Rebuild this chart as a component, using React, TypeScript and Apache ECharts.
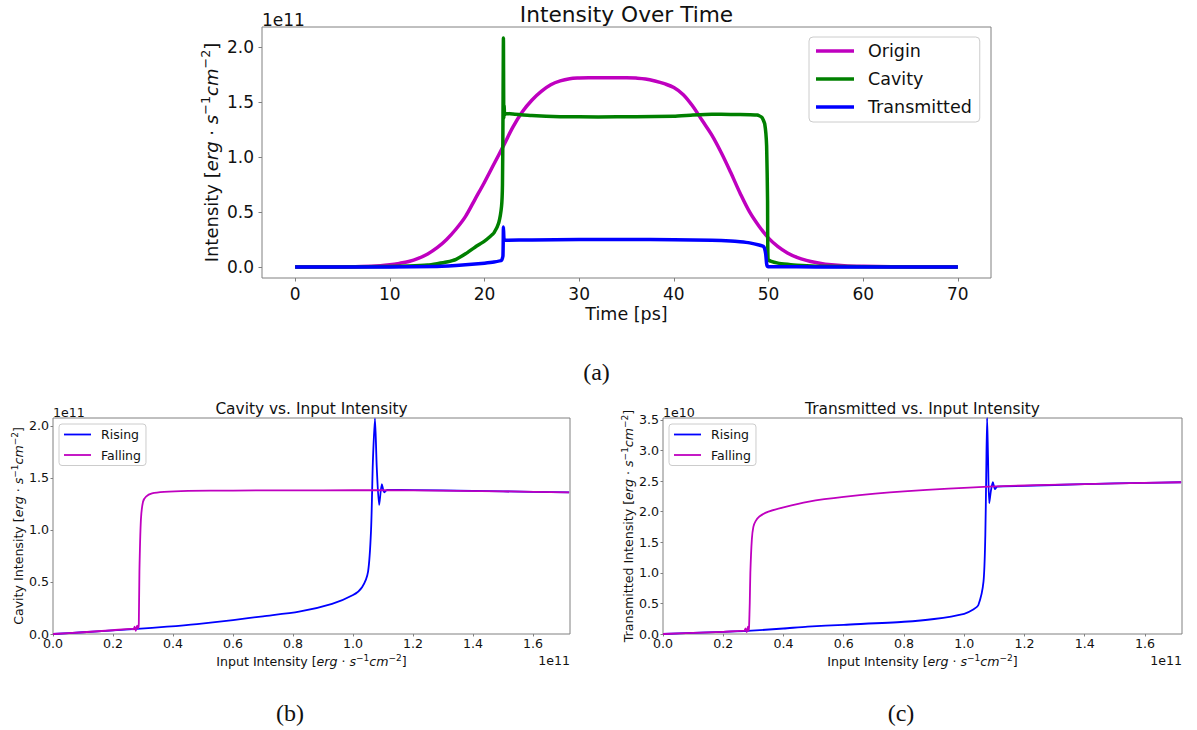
import React, { useEffect, useRef } from 'react';
import * as echarts from 'echarts';

// ---------- Data (intensities in units of the offset shown on each axis) ----------
// Top: Intensity over time (1e11 erg s^-1 cm^-2), time in ps
const timeOrigin = [0, 4, 7, 9, 10, 11, 12, 13, 14, 15, 16, 17, 18, 19, 20, 21, 22, 23, 24, 25, 26, 27, 28, 29, 30, 31, 32, 33, 34, 35, 36, 37, 38, 39, 40, 41, 42, 43, 44, 45, 46, 47, 48, 49, 50, 51, 52, 53, 54, 55, 56, 58, 60, 63, 66, 70];
const origin = [0, 0.001, 0.005, 0.012, 0.02, 0.033, 0.05, 0.078, 0.118, 0.175, 0.25, 0.345, 0.46, 0.615, 0.77, 0.935, 1.1, 1.27, 1.41, 1.515, 1.595, 1.655, 1.69, 1.71, 1.717, 1.72, 1.72, 1.72, 1.72, 1.72, 1.716, 1.708, 1.69, 1.665, 1.63, 1.565, 1.46, 1.33, 1.2, 1.04, 0.86, 0.67, 0.5, 0.37, 0.262, 0.185, 0.128, 0.088, 0.06, 0.04, 0.026, 0.012, 0.006, 0.002, 0.001, 0];

const timeCavity = [0, 5, 10, 12, 14, 15, 16, 17, 18, 19, 20, 20.6, 21, 21.5, 21.8, 21.9, 21.95, 22.0, 22.04, 22.08, 22.12, 22.2, 23, 25, 28, 32, 36, 40, 42, 44, 46, 48, 48.8, 49.3, 49.6, 49.8, 49.9, 49.95, 50.3, 51, 52, 53, 55, 60, 70];
const cavity = [0, 0.001, 0.005, 0.009, 0.018, 0.03, 0.045, 0.07, 0.12, 0.18, 0.235, 0.277, 0.31, 0.4, 0.55, 0.75, 1.3, 2.08, 1.35, 1.47, 1.38, 1.395, 1.39, 1.375, 1.365, 1.363, 1.365, 1.37, 1.38, 1.387, 1.386, 1.383, 1.38, 1.36, 1.3, 1.1, 0.6, 0.07, 0.05, 0.035, 0.024, 0.015, 0.007, 0.002, 0];

const timeTransmitted = [0, 10, 15, 18, 20, 21, 21.8, 21.95, 22.0, 22.05, 22.1, 22.3, 25, 30, 35, 40, 44, 46, 47, 48, 49, 49.5, 49.7, 49.8, 49.9, 51, 55, 70];
const transmitted = [0, 0.001, 0.005, 0.02, 0.035, 0.045, 0.06, 0.1, 0.363, 0.26, 0.241, 0.243, 0.246, 0.25, 0.25, 0.248, 0.243, 0.236, 0.229, 0.219, 0.2, 0.184, 0.12, 0.03, 0.005, 0.002, 0.001, 0];

// Bottom left: cavity (1e11) vs input (1e11)
const cavRiseIn = [0, 0.1, 0.2, 0.28, 0.38, 0.48, 0.6, 0.7, 0.82, 0.93, 1.0, 1.03, 1.05, 1.06, 1.066, 1.073, 1.079, 1.087, 1.096, 1.104, 1.114, 1.2, 1.4, 1.6, 1.72];
const cavRiseOut = [0, 0.017, 0.035, 0.05, 0.07, 0.095, 0.134, 0.17, 0.214, 0.29, 0.374, 0.45, 0.6, 1.0, 1.65, 2.07, 1.6, 1.24, 1.44, 1.36, 1.385, 1.383, 1.375, 1.365, 1.36];
const cavFallIn = [1.72, 1.5, 1.2, 1.0, 0.8, 0.6, 0.45, 0.37, 0.33, 0.31, 0.3, 0.293, 0.288, 0.286, 0.284, 0.28, 0.276, 0.272, 0.268, 0.26, 0.2, 0.1, 0];
const cavFallOut = [1.36, 1.37, 1.38, 1.381, 1.38, 1.378, 1.374, 1.365, 1.35, 1.32, 1.27, 1.1, 0.6, 0.1, 0.055, 0.08, 0.03, 0.07, 0.045, 0.05, 0.036, 0.017, 0];

// Bottom right: transmitted (1e10) vs input (1e11)
const trRiseIn = [0, 0.1, 0.2, 0.28, 0.4, 0.48, 0.6, 0.8, 0.9, 1.0, 1.03, 1.047, 1.064, 1.07, 1.073, 1.076, 1.079, 1.083, 1.089, 1.095, 1.102, 1.11, 1.2, 1.4, 1.6, 1.72];
const trRiseOut = [0, 0.018, 0.035, 0.05, 0.09, 0.12, 0.15, 0.2, 0.245, 0.33, 0.4, 0.474, 0.855, 1.6, 2.6, 3.53, 2.9, 2.14, 2.35, 2.48, 2.37, 2.41, 2.42, 2.45, 2.47, 2.48];
const trFallIn = [1.72, 1.4, 1.08, 0.8, 0.6, 0.48, 0.4, 0.35, 0.32, 0.307, 0.3, 0.295, 0.29, 0.288, 0.286, 0.285, 0.282, 0.278, 0.274, 0.27, 0.26, 0.2, 0.1, 0];
const trFallOut = [2.48, 2.45, 2.41, 2.33, 2.24, 2.16, 2.07, 2.0, 1.92, 1.84, 1.75, 1.55, 1.0, 0.5, 0.15, 0.05, 0.12, 0.03, 0.09, 0.05, 0.05, 0.035, 0.018, 0];

// Tick labels
const topXTicks = [0, 10, 20, 30, 40, 50, 60, 70];
const topYTicks = [0, 0.5, 1.0, 1.5, 2.0];
const inputTicks = [0, 0.2, 0.4, 0.6, 0.8, 1.0, 1.2, 1.4, 1.6];
const cavYTicks = [0, 0.5, 1.0, 1.5, 2.0];
const trYTicks = [0, 0.5, 1.0, 1.5, 2.0, 2.5, 3.0, 3.5];

// ---------- Styling ----------
const FONT = 'DejaVu Sans';
const TXT = '#111111';
const SPINE = '#808080';
const MAG = '#bf00bf';
const GRN = '#008000';
const BLU = '#0000ff';

const pairs = (xs: number[], ys: number[]) => xs.map((x, i) => [x, ys[i]]);

const unitName = (label: string) =>
  `{n|${label} [}{i|erg}{n| · }{i|s}{sup|−1}{i|cm}{sup|−2}{n|]}`;

const richFor = (fs: number, supFs: number, raise: number) => ({
  n: { fontSize: fs, fontFamily: FONT, color: TXT },
  i: { fontSize: fs, fontFamily: FONT, color: TXT, fontStyle: 'italic' },
  sup: { fontSize: supFs, fontFamily: FONT, color: TXT, padding: [0, 0, raise * 2, 0] },
});

function axis(opts: {
  grid: number; min: number; max: number; ticks: number[]; fs: number; margin: number;
  tickLen: number; decimals: number; name: string; nameGap: number; nameFs: number;
  supFs: number; raise: number;
}) {
  return {
    type: 'value',
    gridIndex: opts.grid,
    min: opts.min,
    max: opts.max,
    name: opts.name,
    nameLocation: 'middle',
    nameGap: opts.nameGap,
    nameMoveOverlap: false,
    nameTextStyle: {
      fontSize: opts.nameFs, fontFamily: FONT, color: TXT,
      rich: richFor(opts.nameFs, opts.supFs, opts.raise),
    },
    axisLine: { show: false, onZero: false },
    splitLine: { show: false },
    axisTick: {
      show: true, inside: false, length: opts.tickLen,
      lineStyle: { color: SPINE, width: 1 },
      customValues: opts.ticks,
    },
    axisLabel: {
      show: true, margin: opts.margin, fontSize: opts.fs, fontFamily: FONT, color: TXT,
      customValues: opts.ticks,
      formatter: (v: number) => v.toFixed(opts.decimals),
    },
  };
}

const lineSeries = (name: string, ax: number, xs: number[], ys: number[], color: string, width: number, smooth: number) => ({
  type: 'line', name, xAxisIndex: ax, yAxisIndex: ax, data: pairs(xs, ys),
  symbol: 'none', smooth,
  lineStyle: { width, color, cap: 'butt', join: 'round' }, itemStyle: { color },
});

const option: any = {
  animation: false,
  backgroundColor: '#ffffff',
  textStyle: { fontFamily: FONT },
  title: [
    { text: 'Intensity Over Time', left: 626.5, top: 3.5, textAlign: 'center', padding: 0,
      textStyle: { fontSize: 21.7, fontWeight: 'normal', fontFamily: FONT, color: TXT } },
    { text: 'Cavity vs. Input Intensity', left: 311.5, top: 401, textAlign: 'center', padding: 0,
      textStyle: { fontSize: 15.4, fontWeight: 'normal', fontFamily: FONT, color: TXT } },
    { text: 'Transmitted vs. Input Intensity', left: 922.5, top: 401, textAlign: 'center', padding: 0,
      textStyle: { fontSize: 15.4, fontWeight: 'normal', fontFamily: FONT, color: TXT } },
  ],
  grid: [
    { left: 262, top: 27, width: 729, height: 251, show: true, borderColor: SPINE, borderWidth: 1, backgroundColor: 'transparent' },
    { left: 53, top: 418, width: 517, height: 216, show: true, borderColor: SPINE, borderWidth: 1, backgroundColor: 'transparent' },
    { left: 663, top: 418, width: 519, height: 216, show: true, borderColor: SPINE, borderWidth: 1, backgroundColor: 'transparent' },
  ],
  xAxis: [
    axis({ grid: 0, min: -3.5, max: 73.5, ticks: topXTicks, fs: 17, margin: 7, tickLen: 3.5, decimals: 0,
      name: 'Time [ps]', nameGap: 27, nameFs: 17.5, supFs: 12, raise: 5 }),
    axis({ grid: 1, min: 0, max: 1.723, ticks: inputTicks, fs: 12.6, margin: 3, tickLen: 2.5, decimals: 1,
      name: unitName('Input Intensity'), nameGap: 19, nameFs: 12.6, supFs: 9, raise: 3.5 }),
    axis({ grid: 2, min: 0, max: 1.723, ticks: inputTicks, fs: 12.6, margin: 3, tickLen: 2.5, decimals: 1,
      name: unitName('Input Intensity'), nameGap: 19, nameFs: 12.6, supFs: 9, raise: 3.5 }),
  ],
  yAxis: [
    axis({ grid: 0, min: -0.1, max: 2.18, ticks: topYTicks, fs: 17, margin: 8, tickLen: 3.5, decimals: 1,
      name: unitName('Intensity'), nameGap: 39, nameFs: 18, supFs: 12.8, raise: 5.5 }),
    axis({ grid: 1, min: 0, max: 2.075, ticks: cavYTicks, fs: 12.6, margin: 4, tickLen: 2.5, decimals: 1,
      name: unitName('Cavity Intensity'), nameGap: 27, nameFs: 12.6, supFs: 9, raise: 3.5 }),
    axis({ grid: 2, min: 0, max: 3.53, ticks: trYTicks, fs: 12.6, margin: 4, tickLen: 2.5, decimals: 1,
      name: unitName('Transmitted Intensity'), nameGap: 27, nameFs: 12.6, supFs: 9, raise: 3.5 }),
  ],
  legend: [
    {
      orient: 'vertical', left: 809, top: 37,
      padding: [5, 8, 6, 7], itemGap: 10, itemWidth: 38, itemHeight: 3.5, icon: 'rect',
      backgroundColor: 'rgba(255,255,255,0.8)', borderColor: '#cccccc', borderWidth: 1, borderRadius: 4,
      itemStyle: { borderWidth: 0 },
      textStyle: { fontSize: 17.5, fontFamily: FONT, color: TXT, padding: [0, 0, 0, 9] },
      data: ['Origin', 'Cavity', 'Transmitted'],
      selectedMode: false,
    },
    {
      orient: 'vertical', left: 59, top: 424,
      padding: [4, 5, 4, 5], itemGap: 7.5, itemWidth: 27, itemHeight: 1.8, icon: 'rect',
      backgroundColor: 'rgba(255,255,255,0.8)', borderColor: '#cccccc', borderWidth: 1, borderRadius: 3,
      itemStyle: { borderWidth: 0 },
      textStyle: { fontSize: 12.5, fontFamily: FONT, color: TXT, padding: [0, 0, 0, 5] },
      data: ['Rising', 'Falling'],
      selectedMode: false,
    },
    {
      orient: 'vertical', left: 669, top: 424,
      padding: [4, 5, 4, 5], itemGap: 7.5, itemWidth: 27, itemHeight: 1.8, icon: 'rect',
      backgroundColor: 'rgba(255,255,255,0.8)', borderColor: '#cccccc', borderWidth: 1, borderRadius: 3,
      itemStyle: { borderWidth: 0 },
      textStyle: { fontSize: 12.5, fontFamily: FONT, color: TXT, padding: [0, 0, 0, 5] },
      data: ['Rising', 'Falling'],
      selectedMode: false,
    },
  ],
  series: [
    lineSeries('Origin', 0, timeOrigin, origin, MAG, 3.5, 0.35),
    lineSeries('Cavity', 0, timeCavity, cavity, GRN, 3.5, 0.15),
    lineSeries('Transmitted', 0, timeTransmitted, transmitted, BLU, 3.5, 0.15),
    lineSeries('Rising', 1, cavRiseIn, cavRiseOut, BLU, 1.8, 0.25),
    lineSeries('Falling', 1, cavFallIn, cavFallOut, MAG, 1.8, 0.2),
    lineSeries('Rising', 2, trRiseIn, trRiseOut, BLU, 1.8, 0.25),
    lineSeries('Falling', 2, trFallIn, trFallOut, MAG, 1.8, 0.2),
  ],
  graphic: [
    { type: 'text', x: 262, y: 19.5, style: { text: '1e11', fontSize: 17, fontFamily: FONT, fill: TXT, textAlign: 'left', textVerticalAlign: 'middle' } },
    { type: 'text', x: 53, y: 412, style: { text: '1e11', fontSize: 12.6, fontFamily: FONT, fill: TXT, textAlign: 'left', textVerticalAlign: 'middle' } },
    { type: 'text', x: 570, y: 660.5, style: { text: '1e11', fontSize: 12.6, fontFamily: FONT, fill: TXT, textAlign: 'right', textVerticalAlign: 'middle' } },
    { type: 'text', x: 663, y: 412, style: { text: '1e10', fontSize: 12.6, fontFamily: FONT, fill: TXT, textAlign: 'left', textVerticalAlign: 'middle' } },
    { type: 'text', x: 1182, y: 660.5, style: { text: '1e11', fontSize: 12.6, fontFamily: FONT, fill: TXT, textAlign: 'right', textVerticalAlign: 'middle' } },
    { type: 'text', x: 596.5, y: 372, style: { text: '(a)', fontSize: 24, fontFamily: 'Liberation Serif', fill: TXT, textAlign: 'center', textVerticalAlign: 'middle' } },
    { type: 'text', x: 290, y: 713, style: { text: '(b)', fontSize: 24, fontFamily: 'Liberation Serif', fill: TXT, textAlign: 'center', textVerticalAlign: 'middle' } },
    { type: 'text', x: 901, y: 713, style: { text: '(c)', fontSize: 24, fontFamily: 'Liberation Serif', fill: TXT, textAlign: 'center', textVerticalAlign: 'middle' } },
  ],
};

export default function App() {
  const ref = useRef<HTMLDivElement>(null);
  useEffect(() => {
    if (!ref.current) return;
    const chart = echarts.init(ref.current, null, { renderer: 'svg' });
    chart.setOption(option);
    return () => chart.dispose();
  }, []);
  return (
    <div
      ref={ref}
      style={{ position: 'fixed', left: 0, top: 0, width: 1197, height: 730, background: '#ffffff' }}
    />
  );
}
